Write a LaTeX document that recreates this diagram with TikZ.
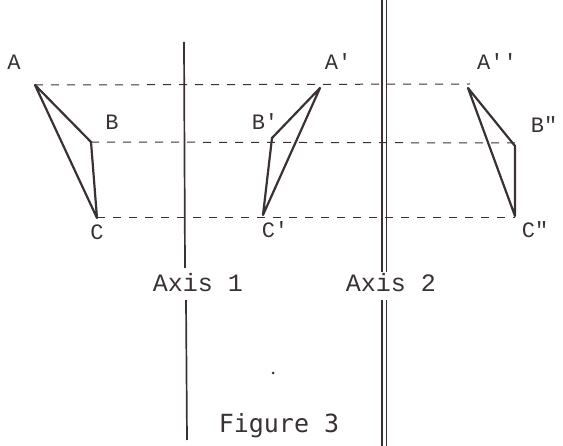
\documentclass[tikz,border=0pt]{standalone}
\usepackage{fontspec}
\newfontfamily\tw{Liberation Mono}
\newfontfamily\fg{DejaVu Sans Mono}
\definecolor{ink}{HTML}{3A3232}
\begin{document}
\begin{tikzpicture}[x=1pt,y=-1pt,
  tri/.style={draw=ink,line width=2.2pt,line join=round},
  proj/.style={draw=ink,line width=1pt,dash pattern=on 8pt off 8pt},
  axisline/.style={draw=ink,line width=1.7pt},
  lbl/.style={text=ink,font=\tw\fontsize{22}{22}\selectfont,inner sep=0pt},
  axlbl/.style={text=ink,font=\tw\fontsize{25}{25}\selectfont,inner sep=0pt}]
\useasboundingbox (0,0) rectangle (563,446);
% vertices
\coordinate (A) at (35,85);
\coordinate (B) at (91,142);
\coordinate (C) at (97,218);
\coordinate (A1) at (320,88);
\coordinate (B1) at (272,138);
\coordinate (C1) at (263,215);
\coordinate (A2) at (468,88);
\coordinate (B2) at (515,146);
\coordinate (C2) at (515,216);
\coordinate (A2e) at (470,84);
\coordinate (B2e) at (515,143);
\coordinate (C2e) at (515,218);
% projection lines
\draw[proj] (A) -- (A2e);
\draw[proj] (B) -- (B2e);
\draw[proj] (C) -- (C2e);
% axes
\coordinate (X1t) at (184,42);
\coordinate (X1m) at (185,268);
\coordinate (X1n) at (186,300);
\coordinate (X1b) at (187,440);
\draw[axisline] (X1t) -- (X1m);
\draw[axisline] (X1n) -- (X1b);
\coordinate (X2t) at (384,0);
\coordinate (X2m) at (384,272);
\coordinate (X2n) at (384,300);
\coordinate (X2b) at (384,446);
\draw[axisline] ([xshift=-2pt]X2t) -- ([xshift=-2pt]X2m);
\draw[axisline] ([xshift=2.5pt]X2t) -- ([xshift=2.5pt]X2m);
\draw[axisline] ([xshift=-2pt]X2n) -- ([xshift=-2pt]X2b);
\draw[axisline] ([xshift=2.5pt]X2n) -- ([xshift=2.5pt]X2b);
% triangles
\draw[tri] (A) -- (B) -- (C) -- cycle;
\draw[tri] (A1) -- (B1) -- (C1) -- cycle;
\draw[tri] (A2) -- (B2) -- (C2) -- cycle;
% labels
\node[lbl] (lA) at (14,62) {A};
\node[lbl] (lB) at (112,122) {B};
\node[lbl] (lC) at (97,232) {C};
\node[lbl] (lA1) at (338,62) {A\char"27};
\node[lbl] (lB1) at (265,122) {B\char"27};
\node[lbl] (lC1) at (275,230) {C\char"27};
\node[lbl] (lA2) at (497,62) {A\char"27\char"27};
\node[lbl] (lB2) at (544,125) {B\char"22};
\node[lbl] (lC2) at (535,230) {C\char"22};
\node[axlbl] (ax1) at (198,283) {Axis 1};
\node[axlbl] (ax2) at (391,283) {Axis 2};
\node[text=ink,font=\fg\fontsize{25}{25}\selectfont,inner sep=0pt] (fig) at (279,426) {Figure 3};
\fill[ink] (273,373) circle (1.5pt);
\end{tikzpicture}
\end{document}
